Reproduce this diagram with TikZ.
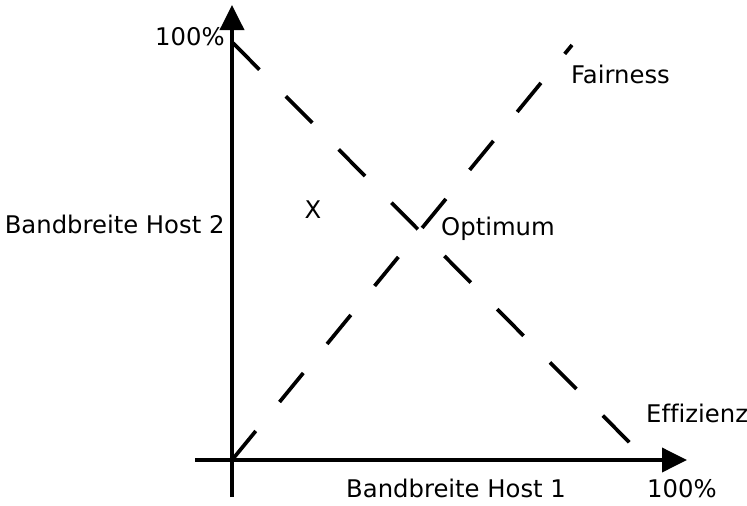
\documentclass[tikz,border=0pt]{standalone}
\usepackage{fontspec}
\setmainfont[Ligatures=NoCommon]{DejaVu Sans}
\usetikzlibrary{arrows.meta}
\begin{document}
\begin{tikzpicture}[x=1pt,y=-1pt,
  axis/.style={line width=3.7pt,-{Triangle[length=25pt,width=24pt]}},
  dashline/.style={line width=3.7pt,dash pattern=on 37.5pt off 37.5pt},
  lbl/.style={font=\fontsize{24.3}{28}\selectfont,inner sep=0pt,anchor=base west}]
\useasboundingbox (0,0) rectangle (747,506);
\coordinate (ybot) at (232,497);
\coordinate (ytop) at (232,5);
\coordinate (xleft) at (195,460);
\coordinate (xright) at (687,460);
\coordinate (orig) at (232,460);
\coordinate (e1) at (233,43);
\coordinate (e2) at (632,445);
\coordinate (f2) at (572,45);
\draw[axis] (ybot) -- (ytop);
\draw[axis] (xleft) -- (xright);
\draw[dashline] (e1) -- (e2);
\draw[dashline] (orig) -- (f2);
\node[lbl] (ymax) at (155,45) {100\%};
\node[lbl] (ylab) at (4.6,233) {Bandbreite Host 2};
\node[lbl,anchor=base] (xm) at (313,218) {X};
\node[lbl] (opt) at (441,235) {Optimum};
\node[lbl] (fair) at (571,83) {Fairness};
\node[lbl] (eff) at (646,422) {Effizienz};
\node[lbl] (xlab) at (346,497) {Bandbreite Host 1};
\node[lbl] (xmax) at (647,497) {100\%};
\end{tikzpicture}
\end{document}
